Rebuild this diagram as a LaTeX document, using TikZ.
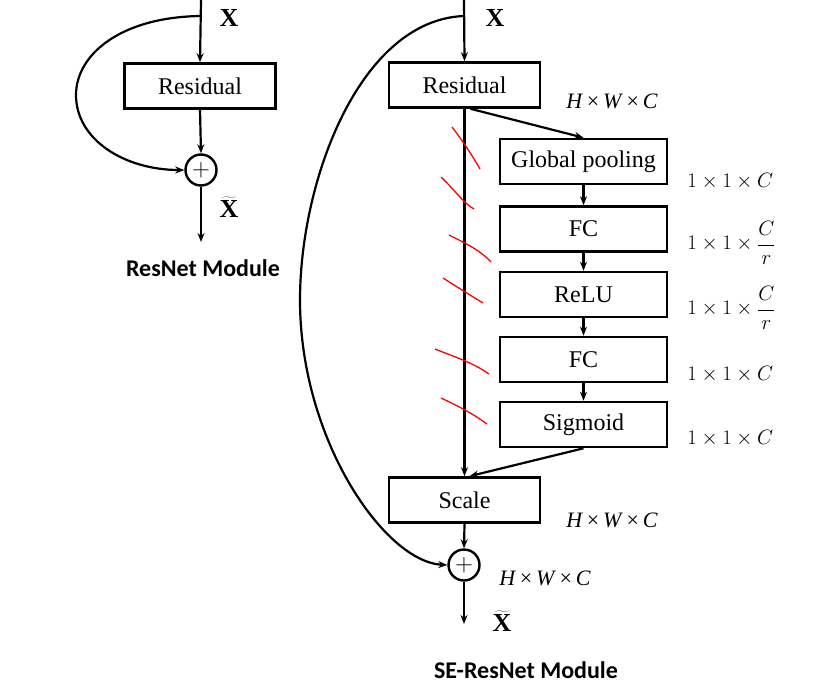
\documentclass[tikz,border=0pt]{standalone}
\usepackage{fontspec}
\setmainfont{Liberation Serif}
\newfontfamily\modfont{Carlito}
\usetikzlibrary{arrows.meta}
\begin{document}
\begin{tikzpicture}[x=1pt,y=-1pt,
  line width=2.2pt,
  arr/.style={line width=2.2pt,-{Stealth[length=9pt,width=7pt]}},
  blk/.style={draw,line width=2.6pt,minimum height=45pt,inner sep=0pt,font=\fontsize{24}{24}\selectfont},
  wide/.style={blk,minimum width=151pt},
  se/.style={blk,minimum width=167pt},
  sumc/.style={draw,circle,line width=2.4pt,minimum size=31pt,inner sep=0pt,font=\fontsize{24}{24}\selectfont},
  dim/.style={font=\fontsize{21}{21}\selectfont,anchor=west},
  hwc/.style={font=\fontsize{22}{22}\selectfont,anchor=west},
  xl/.style={font=\fontsize{26}{26}\selectfont\bfseries},
  modl/.style={font=\fontsize{24}{24}\selectfont\modfont\bfseries},
  redm/.style={draw=red,line width=1.3pt}
]
\useasboundingbox (0,0) rectangle (829,693);
% ---------- left ResNet module ----------
\coordinate (lt) at (201,0);
\coordinate (ls) at (201,16);
\node[wide] (lres) at (200,86) {Residual};
\node[sumc] (lsum) at (201,170) {$+$};
\coordinate (lend) at (201,242);
\node[xl] (lx) at (229,18) {X};
\node[xl] (lxt) at (229,207) {$\widetilde{\mathbf{X}}$};
\node[modl] (lmod) at (203,268) {ResNet Module};
\draw[arr] (lt) -- (lres.north);
\draw[arr] (lres.south) -- (lsum.north);
\draw[arr] (lsum.south) -- (lend);
\draw[arr] (ls) .. controls (120,17) and (76,55) .. (76,95) .. controls (76,140) and (125,170) .. (lsum.west);
% ---------- right SE-ResNet module ----------
\coordinate (rt) at (464,0);
\coordinate (rs) at (464,16);
\node[wide] (rres) at (464.5,85) {Residual};
\node[se] (gp) at (583.5,161.5) {Global pooling};
\node[se] (fc1) at (583.5,229) {FC};
\node[se] (relu) at (583.5,294.5) {ReLU};
\node[se] (fc2) at (583.5,359.5) {FC};
\node[se] (sig) at (583.5,424.5) {Sigmoid};
\node[wide] (scale) at (464.5,500) {Scale};
\node[sumc] (rsum) at (464,565) {$+$};
\coordinate (rend) at (464,624);
\node[xl] (rx) at (495,18) {X};
\node[xl] (rxt) at (502,621) {$\widetilde{\mathbf{X}}$};
\node[modl] (rmod) at (526,670) {SE-ResNet Module};
\node[hwc] (d0) at (562,101) {\textit{H}\,×\,\textit{W}\,×\,\textit{C}};
\node[dim] (d1) at (683,181) {$1\times1\times C$};
\node[dim] (d2) at (683,243) {$1\times1\times\displaystyle\frac{C}{r}$};
\node[dim] (d3) at (683,308) {$1\times1\times\displaystyle\frac{C}{r}$};
\node[dim] (d4) at (683,374) {$1\times1\times C$};
\node[dim] (d5) at (683,438) {$1\times1\times C$};
\node[hwc] (d6) at (562,520) {\textit{H}\,×\,\textit{W}\,×\,\textit{C}};
\node[hwc] (d7) at (495,578) {\textit{H}\,×\,\textit{W}\,×\,\textit{C}};
\draw[arr] (rt) -- (rres.north);
\draw[arr] (rres.south) -- (scale.north);
\draw[arr] ([xshift=6pt]rres.south) -- (gp.north);
\draw[arr] (gp.south) -- (fc1.north);
\draw[arr] (fc1.south) -- (relu.north);
\draw[arr] (relu.south) -- (fc2.north);
\draw[arr] (fc2.south) -- (sig.north);
\draw[arr] (sig.south) -- ([xshift=5pt]scale.north);
\draw[arr] (scale.south) -- (rsum.north);
\draw[arr] (rsum.south) -- (rend);
\draw[arr] (rs) .. controls (360,20) and (300,180) .. (300,300) .. controls (300,440) and (385,562) .. (rsum.west);
% ---------- red hand marks ----------
\draw[redm] (452,127) .. controls (462,140) and (472,155) .. (480,169);
\draw[redm] (441,177) .. controls (455,190) and (463,203) .. (474,209);
\draw[redm] (449,235) .. controls (465,243) and (480,250) .. (491,262);
\draw[redm] (443,278) .. controls (457,287) and (470,295) .. (483,303);
\draw[redm] (435,349) .. controls (452,356) and (472,362) .. (489,374);
\draw[redm] (441,398) .. controls (456,405) and (472,413) .. (487,424);
\end{tikzpicture}
\end{document}
